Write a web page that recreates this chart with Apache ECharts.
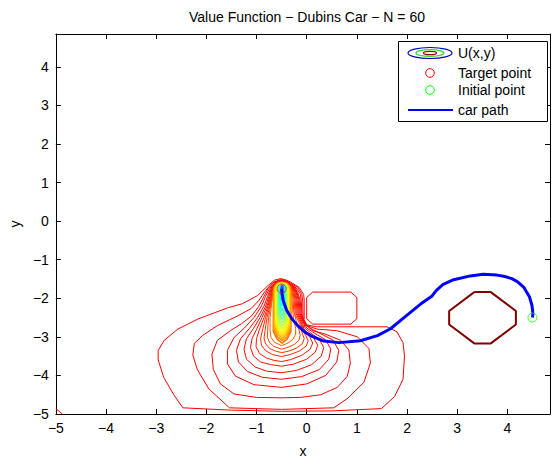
<!DOCTYPE html>
<html>
<head>
<meta charset="utf-8">
<title>Value Function - Dubins Car</title>
<script src="https://cdn.jsdelivr.net/npm/echarts@6/dist/echarts.min.js"></script>
<style>
  html, body { margin: 0; padding: 0; background: #fff; }
  #chart { width: 553px; height: 463px; }
</style>
</head>
<body>
<div id="chart"></div>
<script>
// ---- axes -------------------------------------------------------------
const xTickValues = [-5, -4, -3, -2, -1, 0, 1, 2, 3, 4];
const xTickLabels = ['\u22125', '\u22124', '\u22123', '\u22122', '\u22121', '0', '1', '2', '3', '4'];
const yTickValues = [-5, -4, -3, -2, -1, 0, 1, 2, 3, 4];
const yTickLabels = ['\u22125', '\u22124', '\u22123', '\u22122', '\u22121', '0', '1', '2', '3', '4'];
const axisMin = -5;
const axisMax = 4.85;

// ---- value function contours (x, y points of each level curve) ----------
// outer ring levels, outermost first
const ringContours = [
  [[-0.52,-1.49],[-0.64,-1.53],[-0.78,-1.68],[-0.98,-1.93],[-1.28,-2.14],[-1.58,-2.25],[-2.17,-2.54],[-2.57,-2.80],[-2.84,-3.09],[-2.96,-3.35],[-2.96,-3.60],[-2.85,-4.05],[-2.65,-4.50],[-2.47,-4.84],[-1.5,-4.90],[-0.5,-4.93],[0.5,-4.92],[1.49,-4.86],[1.75,-4.55],[1.92,-4.10],[1.95,-3.50],[1.92,-3.15],[1.80,-2.87],[1.60,-2.74],[1.0,-2.74],[0.2,-2.74],[0.0,-2.69],[-0.05,-2.55],[-0.05,-2.05],[-0.06,-1.90],[-0.15,-1.72],[-0.32,-1.58],[-0.42,-1.52],[-0.52,-1.49]],
  [[-0.52,-1.51],[-0.68,-1.60],[-0.82,-1.80],[-0.95,-2.05],[-1.11,-2.27],[-1.38,-2.46],[-1.78,-2.71],[-2.07,-2.96],[-2.24,-3.17],[-2.27,-3.47],[-2.18,-3.85],[-1.95,-4.35],[-1.54,-4.84],[-0.5,-4.88],[0.54,-4.84],[0.81,-4.60],[1.14,-4.18],[1.27,-3.68],[1.24,-3.30],[1.01,-3.0],[0.6,-2.84],[0.21,-2.80],[0.0,-2.71],[-0.07,-2.55],[-0.08,-2.05],[-0.10,-1.88],[-0.18,-1.72],[-0.33,-1.60],[-0.40,-1.55],[-0.52,-1.51]],
  [[-0.51,-1.53],[-0.65,-1.58],[-0.77,-1.75],[-0.86,-1.97],[-0.96,-2.22],[-1.10,-2.46],[-1.30,-2.66],[-1.51,-2.83],[-1.78,-3.09],[-1.89,-3.45],[-1.86,-3.85],[-1.72,-4.22],[-1.45,-4.48],[-1.0,-4.57],[-0.5,-4.58],[-0.12,-4.57],[0.28,-4.50],[0.61,-4.31],[0.81,-4.02],[0.87,-3.68],[0.84,-3.34],[0.68,-3.09],[0.35,-2.92],[0.12,-2.84],[-0.03,-2.68],[-0.09,-2.52],[-0.11,-2.05],[-0.13,-1.88],[-0.21,-1.73],[-0.35,-1.61],[-0.40,-1.565],[-0.51,-1.53]],
  [[-0.5,-1.54],[-0.63,-1.59],[-0.74,-1.75],[-0.82,-1.95],[-0.90,-2.2],[-1.05,-2.5],[-1.25,-2.78],[-1.45,-3.02],[-1.58,-3.35],[-1.58,-3.70],[-1.42,-4.02],[-1.05,-4.24],[-0.5,-4.31],[0.0,-4.22],[0.38,-4.00],[0.60,-3.65],[0.64,-3.35],[0.52,-3.08],[0.25,-2.90],[0.05,-2.76],[-0.04,-2.64],[-0.11,-2.40],[-0.13,-2.05],[-0.18,-1.85],[-0.25,-1.70],[-0.40,-1.575],[-0.5,-1.54]],
  [[-0.5,-1.545],[-0.625,-1.595],[-0.72,-1.75],[-0.78,-1.95],[-0.85,-2.2],[-0.98,-2.5],[-1.14,-2.78],[-1.32,-3.05],[-1.40,-3.35],[-1.36,-3.65],[-1.18,-3.90],[-0.88,-4.05],[-0.5,-4.10],[-0.1,-4.03],[0.25,-3.85],[0.44,-3.58],[0.48,-3.32],[0.38,-3.08],[0.15,-2.90],[0.0,-2.77],[-0.05,-2.64],[-0.13,-2.40],[-0.15,-2.05],[-0.195,-1.85],[-0.26,-1.70],[-0.40,-1.58],[-0.5,-1.545]],
  [[-0.5,-1.55],[-0.62,-1.60],[-0.705,-1.75],[-0.755,-1.95],[-0.815,-2.2],[-0.93,-2.5],[-1.06,-2.78],[-1.2,-3.05],[-1.25,-3.32],[-1.20,-3.58],[-1.03,-3.78],[-0.8,-3.89],[-0.5,-3.93],[-0.2,-3.87],[0.1,-3.72],[0.29,-3.50],[0.34,-3.28],[0.25,-3.06],[0.08,-2.90],[-0.03,-2.78],[-0.06,-2.64],[-0.15,-2.40],[-0.17,-2.05],[-0.21,-1.85],[-0.27,-1.70],[-0.40,-1.585],[-0.5,-1.55]],
  [[-0.5,-1.555],[-0.615,-1.60],[-0.69,-1.75],[-0.735,-1.95],[-0.79,-2.2],[-0.89,-2.5],[-0.99,-2.78],[-1.09,-3.05],[-1.12,-3.28],[-1.06,-3.50],[-0.92,-3.65],[-0.72,-3.72],[-0.5,-3.76],[-0.27,-3.71],[0.0,-3.58],[0.17,-3.40],[0.22,-3.22],[0.14,-3.03],[0.0,-2.88],[-0.06,-2.78],[-0.08,-2.64],[-0.17,-2.40],[-0.19,-2.05],[-0.225,-1.85],[-0.28,-1.70],[-0.40,-1.59],[-0.5,-1.555]],
  [[-0.5,-1.56],[-0.61,-1.60],[-0.68,-1.75],[-0.72,-1.95],[-0.77,-2.2],[-0.85,-2.5],[-0.94,-2.80],[-1.0,-3.05],[-1.01,-3.25],[-0.94,-3.43],[-0.80,-3.55],[-0.65,-3.61],[-0.5,-3.64],[-0.32,-3.59],[-0.1,-3.48],[0.07,-3.32],[0.12,-3.16],[0.06,-3.0],[-0.04,-2.88],[-0.08,-2.78],[-0.10,-2.64],[-0.19,-2.40],[-0.21,-2.05],[-0.24,-1.85],[-0.29,-1.70],[-0.397,-1.595],[-0.5,-1.56]],
  [[-0.5,-1.565],[-0.607,-1.60],[-0.672,-1.75],[-0.706,-1.95],[-0.75,-2.2],[-0.82,-2.5],[-0.88,-2.82],[-0.92,-3.05],[-0.90,-3.22],[-0.82,-3.36],[-0.68,-3.46],[-0.5,-3.51],[-0.33,-3.46],[-0.15,-3.37],[-0.01,-3.24],[0.03,-3.10],[-0.02,-2.96],[-0.08,-2.84],[-0.12,-2.64],[-0.21,-2.40],[-0.23,-2.05],[-0.255,-1.85],[-0.30,-1.70],[-0.395,-1.60],[-0.5,-1.565]],
  [[-0.5,-1.57],[-0.604,-1.605],[-0.666,-1.75],[-0.696,-1.95],[-0.735,-2.2],[-0.79,-2.5],[-0.83,-2.83],[-0.85,-3.03],[-0.82,-3.18],[-0.74,-3.30],[-0.62,-3.37],[-0.5,-3.41],[-0.36,-3.37],[-0.20,-3.29],[-0.08,-3.17],[-0.05,-3.04],[-0.09,-2.90],[-0.14,-2.66],[-0.23,-2.42],[-0.25,-2.05],[-0.27,-1.85],[-0.31,-1.70],[-0.392,-1.605],[-0.5,-1.57]],
  [[-0.5,-1.575],[-0.602,-1.61],[-0.66,-1.75],[-0.688,-1.95],[-0.72,-2.2],[-0.76,-2.5],[-0.78,-2.84],[-0.78,-3.02],[-0.74,-3.15],[-0.65,-3.25],[-0.5,-3.32],[-0.37,-3.27],[-0.24,-3.19],[-0.15,-3.08],[-0.13,-2.95],[-0.16,-2.78],[-0.21,-2.58],[-0.26,-2.32],[-0.27,-2.05],[-0.285,-1.85],[-0.32,-1.70],[-0.39,-1.61],[-0.5,-1.575]],
  [[-0.5,-1.58],[-0.60,-1.615],[-0.655,-1.75],[-0.68,-1.95],[-0.705,-2.2],[-0.73,-2.5],[-0.73,-2.85],[-0.71,-3.02],[-0.64,-3.14],[-0.5,-3.23],[-0.37,-3.16],[-0.27,-3.06],[-0.22,-2.93],[-0.22,-2.78],[-0.26,-2.56],[-0.28,-2.30],[-0.29,-2.05],[-0.30,-1.85],[-0.33,-1.70],[-0.385,-1.615],[-0.5,-1.58]]
];
const ringColors = ['#ff0000', '#ff0000', '#ff0000', '#ff0000', '#ff0000', '#ff0800',
                    '#ff1000', '#ff1800', '#ff2400', '#ff3000', '#ff4400', '#ff5800'];

// inner levels hanging below the target, from orange down to blue
const columnContours = [
  [[-0.49,-1.59],[-0.59,-1.62],[-0.64,-1.69],[-0.662,-1.80],[-0.665,-2.86],[-0.59,-3.06],[-0.49,-3.16],[-0.39,-3.06],[-0.315,-2.86],[-0.315,-1.80],[-0.34,-1.69],[-0.39,-1.62],[-0.49,-1.59]],
  [[-0.49,-1.595],[-0.585,-1.625],[-0.632,-1.695],[-0.651,-1.805],[-0.653,-2.80],[-0.58,-3.00],[-0.49,-3.10],[-0.40,-3.00],[-0.327,-2.80],[-0.329,-1.805],[-0.348,-1.695],[-0.395,-1.625],[-0.49,-1.595]],
  [[-0.49,-1.60],[-0.58,-1.63],[-0.624,-1.70],[-0.639,-1.81],[-0.641,-2.74],[-0.573,-2.94],[-0.49,-3.04],[-0.407,-2.94],[-0.339,-2.74],[-0.341,-1.81],[-0.356,-1.70],[-0.40,-1.63],[-0.49,-1.60]],
  [[-0.49,-1.605],[-0.574,-1.635],[-0.615,-1.705],[-0.627,-1.815],[-0.629,-2.68],[-0.566,-2.88],[-0.49,-2.98],[-0.414,-2.88],[-0.351,-2.68],[-0.353,-1.815],[-0.365,-1.705],[-0.406,-1.635],[-0.49,-1.605]],
  [[-0.49,-1.61],[-0.567,-1.64],[-0.605,-1.71],[-0.615,-1.82],[-0.617,-2.62],[-0.56,-2.82],[-0.49,-2.92],[-0.42,-2.82],[-0.363,-2.62],[-0.365,-1.82],[-0.375,-1.71],[-0.413,-1.64],[-0.49,-1.61]],
  [[-0.49,-1.615],[-0.56,-1.645],[-0.595,-1.715],[-0.603,-1.825],[-0.605,-2.56],[-0.553,-2.76],[-0.49,-2.86],[-0.427,-2.76],[-0.375,-2.56],[-0.377,-1.825],[-0.385,-1.715],[-0.42,-1.645],[-0.49,-1.615]],
  [[-0.49,-1.62],[-0.553,-1.65],[-0.585,-1.72],[-0.591,-1.83],[-0.593,-2.50],[-0.547,-2.69],[-0.49,-2.79],[-0.433,-2.69],[-0.387,-2.50],[-0.389,-1.83],[-0.395,-1.72],[-0.427,-1.65],[-0.49,-1.62]],
  [[-0.49,-1.625],[-0.546,-1.655],[-0.574,-1.725],[-0.579,-1.835],[-0.581,-2.44],[-0.54,-2.62],[-0.49,-2.72],[-0.44,-2.62],[-0.399,-2.44],[-0.401,-1.835],[-0.406,-1.725],[-0.434,-1.655],[-0.49,-1.625]],
  [[-0.49,-1.63],[-0.539,-1.66],[-0.564,-1.73],[-0.568,-1.84],[-0.569,-2.37],[-0.533,-2.54],[-0.49,-2.64],[-0.447,-2.54],[-0.411,-2.37],[-0.412,-1.84],[-0.416,-1.73],[-0.441,-1.66],[-0.49,-1.63]],
  [[-0.49,-1.635],[-0.532,-1.665],[-0.553,-1.735],[-0.556,-1.845],[-0.557,-2.29],[-0.527,-2.45],[-0.49,-2.55],[-0.453,-2.45],[-0.423,-2.29],[-0.424,-1.845],[-0.427,-1.735],[-0.448,-1.665],[-0.49,-1.635]],
  [[-0.49,-1.64],[-0.525,-1.67],[-0.543,-1.74],[-0.545,-1.85],[-0.545,-2.20],[-0.52,-2.36],[-0.49,-2.45],[-0.46,-2.36],[-0.435,-2.20],[-0.435,-1.85],[-0.437,-1.74],[-0.455,-1.67],[-0.49,-1.64]],
  [[-0.49,-1.645],[-0.519,-1.675],[-0.533,-1.745],[-0.535,-1.855],[-0.535,-2.10],[-0.515,-2.25],[-0.49,-2.33],[-0.465,-2.25],[-0.445,-2.10],[-0.445,-1.855],[-0.447,-1.745],[-0.461,-1.675],[-0.49,-1.645]],
  [[-0.49,-1.65],[-0.513,-1.68],[-0.524,-1.75],[-0.525,-1.86],[-0.525,-1.99],[-0.509,-2.12],[-0.49,-2.20],[-0.471,-2.12],[-0.455,-1.99],[-0.455,-1.86],[-0.456,-1.75],[-0.467,-1.68],[-0.49,-1.65]],
  [[-0.49,-1.655],[-0.508,-1.685],[-0.516,-1.755],[-0.517,-1.88],[-0.505,-1.98],[-0.49,-2.05],[-0.475,-1.98],[-0.463,-1.88],[-0.464,-1.755],[-0.472,-1.685],[-0.49,-1.655]],
  [[-0.49,-1.66],[-0.503,-1.69],[-0.51,-1.75],[-0.51,-1.82],[-0.50,-1.88],[-0.49,-1.92],[-0.48,-1.88],[-0.47,-1.82],[-0.47,-1.75],[-0.477,-1.69],[-0.49,-1.66]],
  [[-0.49,-1.665],[-0.502,-1.70],[-0.504,-1.77],[-0.49,-1.83],[-0.476,-1.77],[-0.478,-1.70],[-0.49,-1.665]],
  [[-0.49,-1.68],[-0.497,-1.71],[-0.49,-1.75],[-0.483,-1.71],[-0.49,-1.68]]
];
const columnColors = ['#ff7000', '#ff9000', '#ffb000', '#ffd000', '#ffee00', '#f0ff10', '#d4ff2b',
                      '#b4ff4b', '#94ff6b', '#74ff8b', '#54ffab', '#34ffcb', '#14ffeb',
                      '#00e4ff', '#00b8ff', '#0088ff', '#0050ff'];

// small level piece in the lower left corner
const cornerContour = [[-5, -4.86], [-4.87, -5]];

// ---- obstacles -------------------------------------------------------
const obstacleA = [[0,-1.98],[0.12,-1.84],[0.88,-1.84],[1.0,-1.98],[1.0,-2.53],[0.88,-2.67],[0.12,-2.67],[0,-2.53],[0,-1.98]];
const obstacleB = [[3.34,-1.84],[3.67,-1.84],[4.17,-2.33],[4.17,-2.68],[3.67,-3.17],[3.34,-3.17],[2.84,-2.68],[2.84,-2.33],[3.34,-1.84]];

// ---- points and trajectory -------------------------------------------
const targetPoint = [[-0.5, -1.75]];
const initialPoint = [[4.5, -2.5]];
const carPath = [
  [4.5,-2.5],[4.51,-2.40],[4.49,-2.18],[4.44,-1.96],[4.33,-1.72],[4.21,-1.58],[4.09,-1.49],
  [3.93,-1.43],[3.79,-1.40],[3.52,-1.38],[3.26,-1.42],[2.93,-1.52],[2.72,-1.64],[2.58,-1.80],
  [2.50,-1.94],[2.27,-2.15],[1.97,-2.47],[1.67,-2.79],[1.41,-2.97],[1.07,-3.10],[0.64,-3.15],
  [0.34,-3.11],[0.11,-2.99],[-0.05,-2.86],[-0.18,-2.71],[-0.29,-2.54],[-0.40,-2.31],
  [-0.47,-2.05],[-0.49,-1.88],[-0.5,-1.75]
];

const titleText = 'Value Function \u2212 Dubins Car \u2212 N = 60';
const xName = 'x';
const yName = 'y';
const legendLabels = ['U(x,y)', 'Target point', 'Initial point', 'car path'];

const FONT = '"Liberation Sans", Arial, Helvetica, sans-serif';

function lineSeries(data, color, width, z) {
  return {
    type: 'line', data: data, showSymbol: false, symbol: 'none',
    lineStyle: { color: color, width: width }, z: z, silent: true, animation: false
  };
}

const series = [];
ringContours.forEach((c, i) => series.push(lineSeries(c, ringColors[i], 1, 2)));
columnContours.forEach((c, i) => series.push(lineSeries(c, columnColors[i], 1.6, 3)));
series.push(lineSeries(cornerContour, '#ff0000', 1, 2));
series.push(lineSeries(obstacleA, '#ff0000', 1, 3));
series.push(lineSeries(obstacleB, '#800000', 2, 3));
series.push(lineSeries(carPath, '#0000ff', 3, 5));
series.push({
  type: 'scatter', data: targetPoint, symbol: 'circle', symbolSize: 9, z: 6,
  itemStyle: { color: 'rgba(0,0,0,0)', borderColor: '#ff0000', borderWidth: 1 }, animation: false
});
series.push({
  type: 'scatter', data: initialPoint, symbol: 'circle', symbolSize: 9, z: 6,
  itemStyle: { color: 'rgba(0,0,0,0)', borderColor: '#00ff00', borderWidth: 1 }, animation: false
});

function axisCommon(pos, showLabels, values, labels) {
  return {
    type: 'value', position: pos, min: axisMin, max: axisMax, interval: 1,
    axisLine: { show: true, onZero: false, lineStyle: { color: '#000', width: 1 } },
    axisTick: { show: true, inside: true, length: 5, lineStyle: { color: '#000', width: 1 } },
    splitLine: { show: false },
    axisLabel: {
      show: showLabels, showMaxLabel: false, color: '#000', fontFamily: FONT, fontSize: 14,
      margin: 7,
      formatter: v => { const i = values.indexOf(v); return i >= 0 ? labels[i] : ''; }
    }
  };
}

const xMain = Object.assign(axisCommon('bottom', true, xTickValues, xTickLabels), {
  name: xName, nameLocation: 'middle', nameGap: 30,
  nameTextStyle: { color: '#000', fontFamily: FONT, fontSize: 14 }
});
const yMain = Object.assign(axisCommon('left', true, yTickValues, yTickLabels), {
  name: yName, nameLocation: 'middle', nameGap: 33,
  nameTextStyle: { color: '#000', fontFamily: FONT, fontSize: 14 }
});
const xTop = axisCommon('top', false, xTickValues, xTickLabels);
const yRight = axisCommon('right', false, yTickValues, yTickLabels);

// legend box drawn with graphic primitives
const LX = 398, LY = 41, LW = 149, LH = 80;
const rowY = [53, 73, 90, 110];
const iconX = 430, textX = 458;
const legendGraphic = [
  { type: 'rect', shape: { x: LX + 0.5, y: LY + 0.5, width: LW, height: LH }, style: { fill: '#fff', stroke: '#000', lineWidth: 1 }, z: 100 },
  { type: 'ellipse', shape: { cx: iconX, cy: rowY[0], rx: 22, ry: 5.5 }, style: { fill: 'none', stroke: '#0000c0', lineWidth: 1.2 }, z: 101 },
  { type: 'ellipse', shape: { cx: iconX, cy: rowY[0], rx: 14, ry: 3.4 }, style: { fill: 'none', stroke: '#30e030', lineWidth: 1.2 }, z: 101 },
  { type: 'ellipse', shape: { cx: iconX, cy: rowY[0], rx: 6.5, ry: 1.7 }, style: { fill: 'none', stroke: '#900000', lineWidth: 1.2 }, z: 101 },
  { type: 'circle', shape: { cx: iconX, cy: rowY[1], r: 4.3 }, style: { fill: 'none', stroke: '#ff0000', lineWidth: 1 }, z: 101 },
  { type: 'circle', shape: { cx: iconX, cy: rowY[2], r: 4.3 }, style: { fill: 'none', stroke: '#00ff00', lineWidth: 1 }, z: 101 },
  { type: 'line', shape: { x1: 408, y1: rowY[3], x2: 453, y2: rowY[3] }, style: { stroke: '#0000ff', lineWidth: 2 }, z: 101 }
];
legendLabels.forEach((t, i) => legendGraphic.push({
  type: 'text', x: textX, y: rowY[i], z: 101,
  style: { text: t, fill: '#000', font: '14px ' + FONT, verticalAlign: 'middle', align: 'left' }
}));

const chart = echarts.init(document.getElementById('chart'), null, { renderer: 'svg' });
chart.setOption({
  animation: false,
  backgroundColor: '#fff',
  title: {
    text: titleText, left: 302, top: 5, textAlign: 'center',
    textStyle: { color: '#000', fontFamily: FONT, fontSize: 14, fontWeight: 'normal' }
  },
  grid: { left: 54, right: 3, top: 34, bottom: 39, containLabel: false },
  xAxis: [xMain, xTop],
  yAxis: [yMain, yRight],
  series: series,
  graphic: legendGraphic
});
</script>
</body>
</html>
